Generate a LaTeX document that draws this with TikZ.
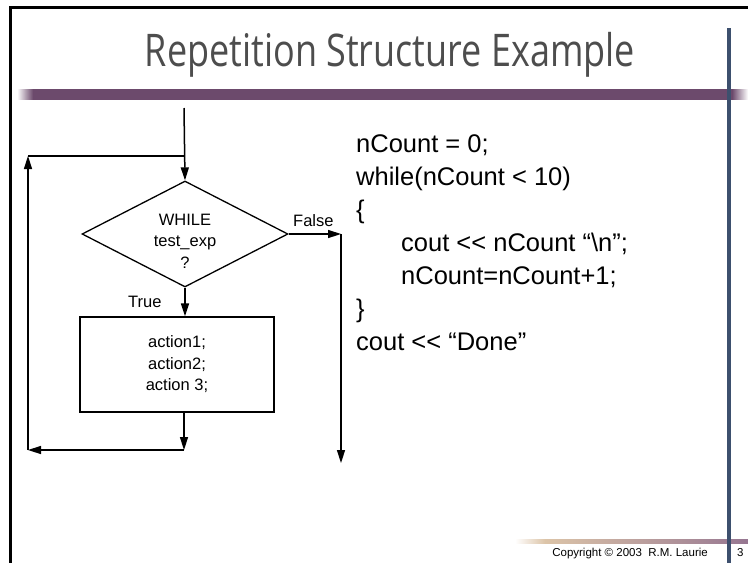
\documentclass[tikz,border=0pt]{standalone}
\usepackage{fontspec}
\setmainfont{Liberation Sans}
\newfontfamily\titlefont[FakeStretch=0.8]{Open Sans}
\usetikzlibrary{shapes.geometric, positioning, calc, arrows.meta}
\definecolor{barpurple}{RGB}{108,74,108}
\definecolor{railblue}{RGB}{61,80,110}
\definecolor{foottan}{RGB}{220,196,168}
\definecolor{footmauve}{RGB}{150,118,145}
\definecolor{titlegray}{RGB}{77,77,77}

\begin{document}
\begin{tikzpicture}[x=1pt, y=-1pt,
  flow/.style={line width=1.5pt, -{Triangle[length=13pt, width=8pt]}},
  plain/.style={line width=1.5pt},
  code/.style={anchor=base west, inner sep=0pt, font=\fontsize{25.5}{30}\selectfont}]
  \newcommand\flowfont{\fontsize{16.5}{21.5}\selectfont}
  \newcommand\shapeline{1.3pt}

  \useasboundingbox (0,0) rectangle (748,563);

  % slide decoration
  \shade[left color=white, right color=barpurple] (17,89) rectangle (33,99.5);
  \fill[barpurple] (33,89) rectangle (732,99.5);
  \shade[left color=barpurple, right color=white] (732,89) rectangle (748,99.5);
  \shade[left color=white, right color=foottan] (515,539.5) rectangle (545,543);
  \shade[left color=foottan, right color=footmauve] (545,539.5) rectangle (748,543);
  \fill[railblue] (726.5,28) rectangle (731,563);
  \draw[line width=3pt] (10.5,563) -- (10.5,7.5) -- (748,7.5);

  \node[font=\titlefont\fontsize{45}{50}\selectfont, text=titlegray, anchor=base, inner sep=0pt] (title) at (390,66) {Repetition Structure Example};

  % flowchart
  \node[diamond, draw, line width=\shapeline, minimum width=206pt, minimum height=106pt, inner sep=0pt] (test) at (185,234) {};
  \node[font=\flowfont, align=center] (testtxt) at (185,241) {WHILE\\test\_exp\\?};
  \node[draw, line width=\shapeline, minimum width=194pt, minimum height=95pt, font=\flowfont, align=center] (act) at (177,364.5) {action1;\\action2;\\action 3;};

  \node[font=\flowfont, anchor=base west, inner sep=0pt] (falselbl) at (293,226) {False};
  \node[font=\flowfont, anchor=base west, inner sep=0pt] (truelbl) at (128,307) {True};

  \coordinate (entry) at (184,108);
  \coordinate (join) at (184,156);
  \coordinate (loopup) at (28,156);
  \coordinate (loopdn) at (28,450);
  \coordinate (back) at (184,450);
  \coordinate (fturn) at (341,234);
  \coordinate (fend) at (341,463);

  \draw[flow] (entry) -- (test.north);
  \draw[flow] (test.south) -- (test.south |- act.north);
  \draw[flow] (act.south -| back) -- (back);
  \draw[flow] (back) -- (loopdn);
  \draw[flow] (loopdn) -- (loopup);
  \draw[plain] (loopup) -- (join);
  \draw[flow] (test.east) -- (fturn);
  \draw[flow] (fturn) -- (fend);

  % source code
  \foreach \xpos/\src [count=\i from 0] in {356/{nCount = 0;}, 356/{while(nCount < 10)}, 356/\{, 401/{cout <{}< nCount “\textbackslash n”;}, 401/{nCount=nCount+1;}, 356/\}, 356/{cout <{}< “Done”}}
    \node[code] (src\i) at (\xpos, {152+33*\i}) {\src};

  \node[anchor=base east, font=\fontsize{11.5}{13}\selectfont, inner sep=0pt] (copy) at (708,556) {Copyright © 2003\ \ R.M. Laurie};
  \node[anchor=base west, font=\fontsize{11.5}{13}\selectfont, inner sep=0pt] (pageno) at (737,556) {3};
\end{tikzpicture}
\end{document}
